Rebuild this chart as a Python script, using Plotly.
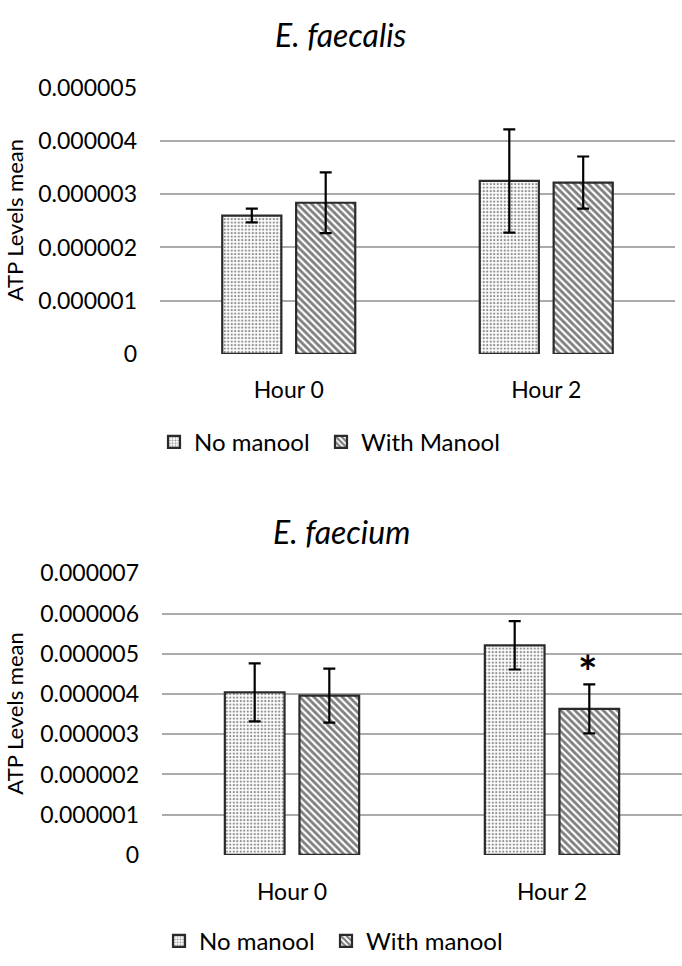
import plotly.graph_objects as go

# ---------------- data ----------------
categories = ["Hour 0", "Hour 2"]

faecalis_no_manool = [2.60e-6, 3.25e-6]
faecalis_no_manool_err = [0.13e-6, 0.97e-6]
faecalis_with_manool = [2.84e-6, 3.22e-6]
faecalis_with_manool_err = [0.57e-6, 0.49e-6]

faecium_no_manool = [4.04e-6, 5.21e-6]
faecium_no_manool_err = [0.72e-6, 0.60e-6]
faecium_with_manool = [3.96e-6, 3.63e-6]
faecium_with_manool_err = [0.67e-6, 0.61e-6]

top_tickvals = [0, 1e-6, 2e-6, 3e-6, 4e-6, 5e-6]
top_ticktext = ["0", "0.000001", "0.000002", "0.000003", "0.000004", "0.000005"]
bot_tickvals = [0, 1e-6, 2e-6, 3e-6, 4e-6, 5e-6, 6e-6, 7e-6]
bot_ticktext = ["0", "0.000001", "0.000002", "0.000003", "0.000004",
                "0.000005", "0.000006", "0.000007"]

# significance marker: Hour 2, With manool (E. faecium)
sig_category = "Hour 2"
sig_value = faecium_with_manool[1] + faecium_with_manool_err[1]

# ---------------- styling ----------------
W, H = 682, 966
FONT = "Lato, 'Open Sans', sans-serif"
GRID = "#ababab"
OUTLINE = "#2a2a2a"

dots = dict(shape=".", size=3.5, solidity=0.35, fgcolor="#222222", bgcolor="white",
            fillmode="overlay")
stripes = dict(shape="\\", size=5, solidity=0.55, fgcolor="#000000", bgcolor="white",
               fillmode="overlay")

def err(arr):
    return dict(type="data", array=arr, visible=True, color="black",
                thickness=2.2, width=6)

def px_x(p):
    return p / W

def px_y(p):
    return 1 - p / H

fig = go.Figure()

fig.add_trace(go.Bar(x=categories, y=faecalis_no_manool, name="No manool",
                     marker=dict(color="white", pattern=dots,
                                 line=dict(color=OUTLINE, width=2.2)),
                     error_y=err(faecalis_no_manool_err),
                     xaxis="x", yaxis="y", legend="legend", offsetgroup="a"))
fig.add_trace(go.Bar(x=categories, y=faecalis_with_manool, name="With Manool",
                     marker=dict(color="white", pattern=stripes,
                                 line=dict(color=OUTLINE, width=2.2)),
                     error_y=err(faecalis_with_manool_err),
                     xaxis="x", yaxis="y", legend="legend2", offsetgroup="b"))
fig.add_trace(go.Bar(x=categories, y=faecium_no_manool, name="No manool",
                     marker=dict(color="white", pattern=dots,
                                 line=dict(color=OUTLINE, width=2.2)),
                     error_y=err(faecium_no_manool_err),
                     xaxis="x2", yaxis="y2", legend="legend3", offsetgroup="a"))
fig.add_trace(go.Bar(x=categories, y=faecium_with_manool, name="With manool",
                     marker=dict(color="white", pattern=stripes,
                                 line=dict(color=OUTLINE, width=2.2)),
                     error_y=err(faecium_with_manool_err),
                     xaxis="x2", yaxis="y2", legend="legend4", offsetgroup="b"))

axis_font = dict(family=FONT, size=23, color="black")

xcommon = dict(type="category", showgrid=False, zeroline=False, showline=False,
               ticks="outside", ticklen=16, tickcolor="rgba(0,0,0,0)",
               tickfont=axis_font, fixedrange=True)
ycommon = dict(showgrid=True, gridcolor=GRID, gridwidth=2, zeroline=False,
               showline=False, ticks="", ticklabelstandoff=22,
               tickfont=axis_font, fixedrange=True)

def leg(xp, yp):
    return dict(orientation="h", x=px_x(xp), y=px_y(yp), xanchor="left",
                yanchor="middle", font=dict(family=FONT, size=24),
                itemwidth=30, bgcolor="rgba(0,0,0,0)")

fig.update_layout(
    width=W, height=H,
    margin=dict(l=0, r=0, t=0, b=0),
    paper_bgcolor="white", plot_bgcolor="white",
    barmode="group", bargap=0.426, bargroupgap=0.2,
    font=dict(family=FONT, color="black"),
    xaxis=dict(xcommon, domain=[px_x(160), px_x(675)], anchor="y"),
    yaxis=dict(ycommon, domain=[px_y(349), px_y(75)], anchor="x",
               range=[0, 5.0001e-6], tickvals=top_tickvals, ticktext=top_ticktext),
    xaxis2=dict(xcommon, domain=[px_x(162), px_x(682)], anchor="y2"),
    yaxis2=dict(ycommon, domain=[px_y(865), px_y(575)], anchor="x2",
                range=[0, 7.0001e-6], tickvals=bot_tickvals, ticktext=bot_ticktext),
    legend=leg(154, 440),
    legend2=leg(321, 440),
    legend3=leg(159, 954),
    legend4=leg(326, 954),
    showlegend=True,
)

annotations = [
    dict(text="<i>E. faecalis</i>", x=0.5, y=px_y(20), xref="paper", yref="paper",
         showarrow=False, font=dict(family=FONT, size=32, color="black"),
         xanchor="center", yanchor="middle"),
    dict(text="<i>E. faecium</i>", x=0.5, y=px_y(532), xref="paper", yref="paper",
         showarrow=False, font=dict(family=FONT, size=32, color="black"),
         xanchor="center", yanchor="middle"),
    dict(text="ATP Levels mean", textangle=-90, x=0, y=px_y(212),
         xref="paper", yref="paper", showarrow=False,
         font=dict(family=FONT, size=22, color="black"),
         xanchor="left", yanchor="middle", borderpad=0),
    dict(text="ATP Levels mean", textangle=-90, x=0, y=px_y(720),
         xref="paper", yref="paper", showarrow=False,
         font=dict(family=FONT, size=22, color="black"),
         xanchor="left", yanchor="middle", borderpad=0),
    dict(text="<b>*</b>", x=sig_category, y=sig_value, xref="x2", yref="y2",
         xshift=36, yshift=13, showarrow=False,
         font=dict(family=FONT, size=46, color="black"),
         xanchor="center", yanchor="middle"),
]
fig.update_layout(annotations=annotations)

fig.write_html("out.html", config={"displayModeBar": False},
               post_script="document.body.style.margin='0';")
